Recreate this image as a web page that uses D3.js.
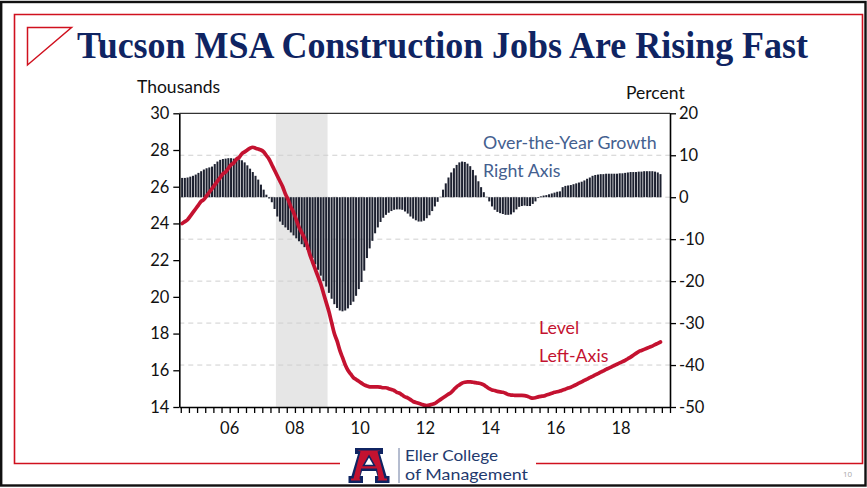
<!DOCTYPE html>
<html><head><meta charset="utf-8">
<script src="https://cdn.jsdelivr.net/npm/d3@7"></script>
<style>
html,body{margin:0;padding:0;background:#fff;}
svg{display:block;}
</style></head>
<body>
<svg id="chart" width="867" height="488"></svg>
<script>
// ---------- DATA ----------
const startYear = 2005; // monthly data from Jan 2005
// Over-the-year growth, percent (right axis), monthly Jan 2005 - Sep 2019
const growth2005 = [4.6, 4.6, 4.7, 4.9, 5.1, 5.4, 5.8, 6.2, 6.6, 6.9, 7.1, 7.3];
const growth2006 = [7.9, 8.5, 8.9, 9.1, 9.2, 9.3, 9.3, 9.2, 9.1, 9.0, 8.8, 8.3];
const growth2007 = [7.6, 6.8, 6.0, 5.1, 4.2, 3.0, 1.8, 0.6, -0.3, -1.2, -2.8, -4.6];
const growth2008 = [-5.8, -6.6, -7.2, -7.8, -8.4, -9.1, -9.8, -10.5, -11.2, -11.9, -12.5, -13.1];
const growth2009 = [-14.5, -16.0, -17.3, -18.7, -20.0, -21.3, -22.8, -24.2, -25.5, -26.4, -27.0, -27.2];
const growth2010 = [-27.0, -26.5, -25.7, -24.9, -23.5, -21.9, -20.2, -17.5, -14.5, -12.2, -10.4, -8.6];
const growth2011 = [-7.2, -5.9, -4.9, -4.2, -3.7, -3.3, -3.0, -2.9, -2.9, -3.0, -3.4, -3.9];
const growth2012 = [-4.6, -5.1, -5.5, -5.8, -5.8, -5.6, -5.0, -4.3, -3.3, -2.2, -1.1, 0.1];
const growth2013 = [1.8, 3.3, 4.7, 5.9, 6.9, 7.7, 8.3, 8.5, 8.4, 8.0, 7.4, 6.5];
const growth2014 = [5.2, 3.8, 2.4, 1.2, 0.1, -1.0, -2.2, -3.0, -3.5, -3.8, -4.0, -4.2];
const growth2015 = [-4.2, -4.1, -3.6, -2.9, -2.3, -2.1, -2.0, -2.1, -2.1, -1.6, -1.0, -0.2];
const growth2016 = [0.2, 0.4, 0.5, 0.7, 0.9, 1.1, 1.3, 1.4, 2.4, 2.7, 2.8, 2.9];
const growth2017 = [3.1, 3.3, 3.5, 3.7, 4.0, 4.4, 4.7, 5.1, 5.3, 5.4, 5.5, 5.5];
const growth2018 = [5.6, 5.6, 5.6, 5.6, 5.6, 5.7, 5.7, 5.8, 5.9, 6.0, 6.0, 6.0];
const growth2019 = [6.1, 6.1, 6.2, 6.2, 6.2, 6.2, 6.1, 5.9, 5.5];

// Employment level, thousands (left axis), monthly Jan 2005 - Sep 2019
const level2005 = [24.0, 24.1, 24.2, 24.4, 24.6, 24.8, 25.0, 25.2, 25.3, 25.5, 25.7, 25.9];
const level2006 = [26.1, 26.3, 26.5, 26.7, 26.8, 27.0, 27.2, 27.3, 27.5, 27.6, 27.8, 27.9];
const level2007 = [28.0, 28.1, 28.15, 28.1, 28.05, 28.0, 27.9, 27.7, 27.5, 27.2, 26.9, 26.6];
const level2008 = [26.3, 26.0, 25.6, 25.3, 24.9, 24.6, 24.2, 23.8, 23.5, 23.2, 22.8, 22.3];
const level2009 = [21.9, 21.5, 21.1, 20.7, 20.2, 19.7, 19.2, 18.6, 18.0, 17.6, 17.1, 16.7];
const level2010 = [16.3, 16.0, 15.8, 15.6, 15.5, 15.4, 15.3, 15.2, 15.15, 15.1, 15.1, 15.1];
const level2011 = [15.1, 15.08, 15.05, 15.05, 15.0, 14.95, 14.9, 14.8, 14.75, 14.65, 14.55, 14.5];
const level2012 = [14.4, 14.3, 14.25, 14.2, 14.15, 14.1, 14.08, 14.1, 14.15, 14.2, 14.3, 14.4];
const level2013 = [14.5, 14.6, 14.7, 14.8, 14.95, 15.1, 15.2, 15.3, 15.35, 15.37, 15.37, 15.35];
const level2014 = [15.33, 15.3, 15.27, 15.2, 15.1, 15.0, 14.93, 14.9, 14.85, 14.82, 14.8, 14.75];
const level2015 = [14.68, 14.65, 14.64, 14.63, 14.63, 14.63, 14.62, 14.58, 14.52, 14.48, 14.5, 14.55];
const level2016 = [14.58, 14.6, 14.65, 14.7, 14.75, 14.8, 14.83, 14.87, 14.92, 14.97, 15.03, 15.08];
const level2017 = [15.15, 15.22, 15.3, 15.37, 15.45, 15.52, 15.6, 15.67, 15.75, 15.82, 15.9, 15.97];
const level2018 = [16.05, 16.12, 16.19, 16.26, 16.33, 16.4, 16.47, 16.54, 16.63, 16.72, 16.82, 16.92];
const level2019 = [17.02, 17.08, 17.14, 17.2, 17.26, 17.32, 17.4, 17.47, 17.54];

const recession = [2007 + 11/12, 2009 + 6/12]; // Dec 2007 - Jun 2009
const leftTicks = [14, 16, 18, 20, 22, 24, 26, 28, 30];
const rightTicks = [-50, -40, -30, -20, -10, 0, 10, 20];
const gridTicks = [-40, -30, -20, -10, 0, 10];
const xLabelYears = [2006, 2008, 2010, 2012, 2014, 2016, 2018];
const xLabels = ["06", "08", "10", "12", "14", "16", "18"];

const titleText = "Tucson MSA Construction Jobs Are Rising Fast";

// ---------- BUILD ----------
const growth = [].concat(growth2005, growth2006, growth2007, growth2008, growth2009, growth2010,
  growth2011, growth2012, growth2013, growth2014, growth2015, growth2016, growth2017, growth2018, growth2019);
const level = [].concat(level2005, level2006, level2007, level2008, level2009, level2010,
  level2011, level2012, level2013, level2014, level2015, level2016, level2017, level2018, level2019);
const tOf = i => startYear + i / 12 + 1 / 24;

const svg = d3.select("#chart");
const navy = "#0f2462";
const red = "#c41230";
const barColor = "#1d2130";

// Page frame
svg.append("rect").attr("x", 1.2).attr("y", 2).attr("width", 864.3).attr("height", 483.5)
  .attr("fill", "none").attr("stroke", "#111").attr("stroke-width", 2.4);
// red frame with gap at the bottom for logo
svg.append("path")
  .attr("d", "M340,463.5 L14.5,463.5 L14.5,14.5 L862.5,14.5 L862.5,463.5 L536,463.5")
  .attr("fill", "none").attr("stroke", "#d0101e").attr("stroke-width", 1.6);
// title triangle
svg.append("path").attr("d", "M27.5,27.5 L71.5,27.5 L27.5,65 Z")
  .attr("fill", "none").attr("stroke", "#d0101e").attr("stroke-width", 1.5);
// title
svg.append("text").attr("x", 77).attr("y", 57.5)
  .attr("font-family", "'Liberation Serif', 'Times New Roman', serif")
  .attr("font-weight", "bold").attr("font-size", 38).attr("fill", navy)
  .attr("textLength", 731).attr("lengthAdjust", "spacingAndGlyphs")
  .text(titleText);

// ---------- CHART ----------
const L = 179.3, R = 670, T = 113.3, B = 407;
const x = d3.scaleLinear().domain([2004.955, 2020.0]).range([L, R]);
const yL = d3.scaleLinear().domain([14, 30]).range([B, T]);
const yR = d3.scaleLinear().domain([-50, 20]).range([B, T]);

const g = svg.append("g");
// recession shading
g.append("rect").attr("x", x(recession[0])).attr("y", T)
  .attr("width", x(recession[1]) - x(recession[0])).attr("height", B - T)
  .attr("fill", "#e6e6e6");
// grid
g.selectAll("line.grid").data(gridTicks).join("line")
  .attr("x1", L).attr("x2", R).attr("y1", d => yR(d)).attr("y2", d => yR(d))
  .attr("stroke", "#cfcfcf").attr("stroke-width", 1).attr("stroke-dasharray", "5,4");

// bars
const bw = x(startYear + 1/12) - x(startYear);
g.selectAll("rect.bar").data(growth).join("rect")
  .attr("x", (d, i) => x(tOf(i)) - bw / 2 + 0.35)
  .attr("width", bw - 0.7)
  .attr("y", d => Math.min(yR(d), yR(0)))
  .attr("height", d => Math.abs(yR(d) - yR(0)))
  .attr("fill", barColor);

// level line
g.append("path").datum(level)
  .attr("d", d3.line().x((d, i) => x(tOf(i))).y(d => yL(d)).curve(d3.curveMonotoneX))
  .attr("fill", "none").attr("stroke", red).attr("stroke-width", 3.7)
  .attr("stroke-linejoin", "round").attr("stroke-linecap", "round");

// top border
g.append("line").attr("x1", L).attr("x2", R).attr("y1", T).attr("y2", T)
  .attr("stroke", "#000").attr("stroke-width", 1);

const tickFont = "Lato, 'Open Sans', sans-serif";
const fmt = d => String(d);
// left axis
const axL = svg.append("g").attr("transform", `translate(${L},0)`)
  .call(d3.axisLeft(yL).tickValues(leftTicks).tickSize(6).tickSizeOuter(0).tickPadding(4).tickFormat(fmt));
// right axis
const axR = svg.append("g").attr("transform", `translate(${R},0)`)
  .call(d3.axisRight(yR).tickValues(rightTicks).tickSize(6).tickSizeOuter(0).tickPadding(3).tickFormat(fmt));
// bottom axis (quarterly ticks)
const qTicks = d3.range(0, 61).map(q => startYear + q / 4);
const axB = svg.append("g").attr("transform", `translate(0,${B})`)
  .call(d3.axisBottom(x).tickValues(qTicks).tickSize(6).tickSizeOuter(0).tickFormat(""));
[axL, axR, axB].forEach(a => {
  a.select(".domain").attr("stroke", "#000").attr("stroke-width", 1.6);
  a.selectAll(".tick line").attr("stroke", "#000").attr("stroke-width", 1.3);
  a.selectAll("text").attr("font-family", tickFont).attr("font-size", 16.5).attr("fill", "#111");
});
// x labels centered in the year
svg.append("g").selectAll("text").data(xLabelYears).join("text")
  .attr("x", d => x(d + 0.5)).attr("y", 434)
  .attr("text-anchor", "middle").attr("font-family", tickFont).attr("font-size", 16.5).attr("fill", "#111")
  .text((d, i) => xLabels[i]);

// axis titles
svg.append("text").attr("x", 137).attr("y", 93).attr("font-family", tickFont)
  .attr("font-size", 17.5).attr("fill", "#111").text("Thousands");
svg.append("text").attr("x", 626).attr("y", 99).attr("font-family", tickFont)
  .attr("font-size", 17.5).attr("fill", "#111").text("Percent");

// annotations
const annFont = "Lato, 'Open Sans', sans-serif";
svg.append("text").attr("x", 483).attr("y", 149).attr("font-family", annFont)
  .attr("font-size", 17.8).attr("fill", "#44608f").text("Over-the-Year Growth");
svg.append("text").attr("x", 483).attr("y", 177).attr("font-family", annFont)
  .attr("font-size", 17.8).attr("fill", "#44608f").text("Right Axis");
svg.append("text").attr("x", 539).attr("y", 334).attr("font-family", annFont)
  .attr("font-size", 17.8).attr("fill", red).text("Level");
svg.append("text").attr("x", 539).attr("y", 362).attr("font-family", annFont)
  .attr("font-size", 17.8).attr("fill", red).text("Left-Axis");

// ---------- FOOTER LOGO ----------
const logo = svg.append("g");
logo.append("path")
  .attr("d", "M355,448 L383,448 L383,454 L380,454 L386.5,476 L389.5,476 L389.5,483 L375,483 L375,476 L377.5,476 L376,471 L362,471 L360.5,476 L363,476 L363,483 L348.5,483 L348.5,476 L351.5,476 L358,454 L355,454 Z")
  .attr("fill", navy);
logo.append("path")
  .attr("d", "M357.5,450.5 L380.5,450.5 L377.5,451.5 L384.5,478.5 L387,478.5 L387,480.5 L377.5,480.5 L378.5,478.5 L377,468.5 L361,468.5 L359.5,478.5 L360.5,480.5 L351,480.5 L351,478.5 L353.5,478.5 L360.5,451.5 Z")
  .attr("fill", red);
logo.append("path").attr("d", "M369,456 L374.5,465.5 L363.5,465.5 Z")
  .attr("fill", "#fff").attr("stroke", navy).attr("stroke-width", 1.5);
logo.append("line").attr("x1", 399).attr("x2", 399).attr("y1", 448).attr("y2", 483)
  .attr("stroke", "#6a7ba0").attr("stroke-width", 1);
logo.append("text").attr("x", 405).attr("y", 460.5).attr("font-family", "Lato, sans-serif")
  .attr("font-size", 15).attr("fill", "#1f3a6e")
  .attr("textLength", 93).attr("lengthAdjust", "spacingAndGlyphs").text("Eller College");
logo.append("text").attr("x", 405).attr("y", 479.5).attr("font-family", "Lato, sans-serif")
  .attr("font-size", 15).attr("fill", "#1f3a6e")
  .attr("textLength", 123).attr("lengthAdjust", "spacingAndGlyphs").text("of Management");
svg.append("text").attr("x", 843).attr("y", 477).attr("font-family", "'Open Sans', sans-serif")
  .attr("font-size", 8).attr("fill", "#aaa").text("10");
</script>
</body></html>
